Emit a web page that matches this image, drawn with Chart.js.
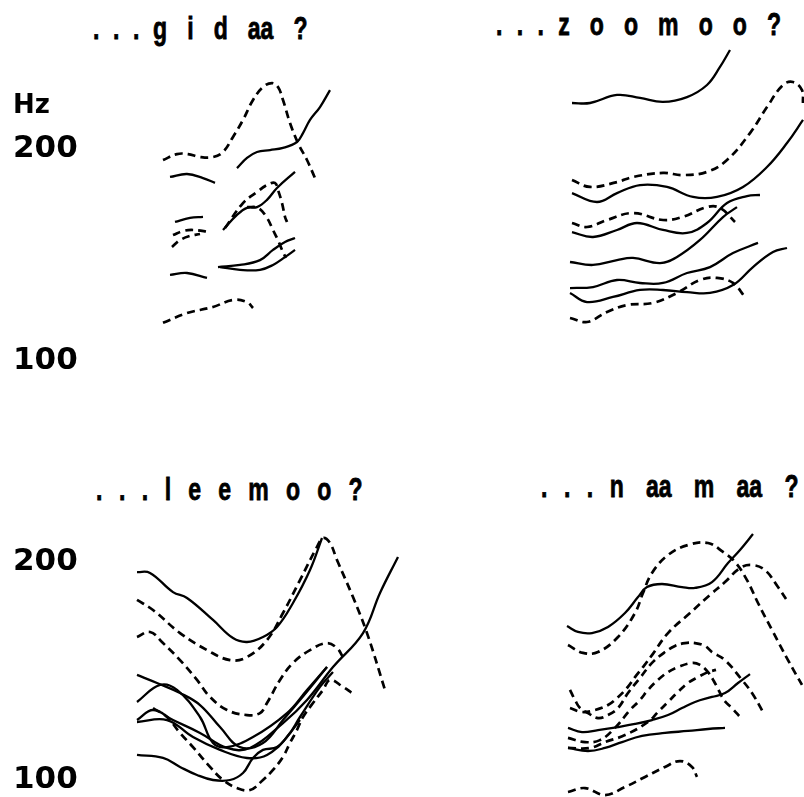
<!DOCTYPE html>
<html>
<head>
<meta charset="utf-8">
<script src="https://cdn.jsdelivr.net/npm/chart.js@4.4.1/dist/chart.umd.min.js"></script>
<style>
  html, body { margin: 0; padding: 0; background: #fff; overflow: hidden; width: 804px; height: 797px; }
  .panel { position: absolute; }
  .word {
    position: absolute;
    font: bold 32px "Liberation Sans", Arial, sans-serif;
    line-height: 32px;
    white-space: pre;
    color: #000;
    -webkit-text-stroke: 0.8px #000;
    transform: scaleX(0.72);
    transform-origin: 0 0;
  }
</style>
</head>
<body>
<div class="word" style="left:93px;top:12px"><span style="word-spacing:10px">. . . </span><span style="word-spacing:19px">g i d aa ?</span></div>
<div class="word" style="left:496px;top:8px"><span style="word-spacing:11px">. . . </span><span style="word-spacing:19px">z o o m o o ?</span></div>
<div class="word" style="left:96px;top:473px"><span style="word-spacing:14px">. . . </span><span style="word-spacing:15px">l e e m o o ?</span></div>
<div class="word" style="left:541px;top:470px"><span style="word-spacing:14px">. . . </span><span style="word-spacing:22px">n aa m aa ?</span></div>

<canvas id="gidaa" class="panel" width="400" height="410" style="left:0;top:0"></canvas>
<canvas id="zoomoo" class="panel" width="404" height="410" style="left:400px;top:0"></canvas>
<canvas id="leemoo" class="panel" width="420" height="440" style="left:0;top:400px"></canvas>
<canvas id="naamaa" class="panel" width="384" height="440" style="left:420px;top:400px"></canvas>

<script>
// Pitch contours, [time in ms, F0 in Hz]. Solid and dashed tracks per utterance.
const hzTicks = [100, 200];

// ... gidaa ?
const gidaa1 = [[46,194.8],[74,197.6],[96,197.6],[120,196.2],[146,196.2],[166,198.6],[186,205.7],[206,213.7],[226,223.1],[246,229.2],[264,231.1],[276,229.2],[286,223.1],[300,212.3],[316,202.8],[334,194.8],[350,186.3]];
const gidaa2 = [[194,191.0],[214,195.8],[234,198.6],[260,199.5],[286,200.5],[314,203.3],[326,207.5],[340,213.7],[360,219.8],[380,227.8]];
const gidaa3 = [[60,186.8],[94,188.2],[126,186.3],[150,184.0]];
const gidaa4 = [[166,161.8],[194,168.9],[214,172.2],[234,172.6],[254,176.0],[274,181.6],[310,189.2]];
const gidaa5 = [[170,162.7],[206,174.5],[234,179.7],[254,183.0],[270,184.0],[276,180.7],[284,174.5],[290,168.0],[294,165.6]];
const gidaa6 = [[214,172.6],[236,172.2],[254,167.5],[266,161.8],[276,157.0],[284,152.4],[292,148.6]];
const gidaa7 = [[70,165.6],[100,167.5],[126,168.0]];
const gidaa8 = [[66,159.4],[86,161.3],[106,161.8],[140,160.8]];
const gidaa9 = [[64,153.8],[80,157.0],[100,159.0],[120,159.9]];
const gidaa10 = [[60,140.6],[94,141.5],[134,139.2]];
const gidaa11 = [[156,144.3],[200,145.3],[240,147.6],[266,152.4],[290,156.1],[310,158.0]];
const gidaa12 = [[160,144.3],[200,143.0],[240,143.0],[266,145.3],[290,149.0],[310,152.4]];
const gidaa13 = [[46,118.0],[94,122.6],[146,125.5],[186,128.8],[214,127.8],[226,125.0]];
const gidaaSolid = [gidaa2, gidaa3, gidaa4, gidaa7, gidaa10, gidaa11, gidaa12];
const gidaaDashed = [gidaa1, gidaa5, gidaa6, gidaa8, gidaa9, gidaa13];

// ... zoomoo ?
const zoomoo1 = [[44,221.7],[80,221.7],[134,225.5],[180,224.1],[226,222.2],[274,224.5],[314,230.2],[340,238.7],[360,246.7]];
const zoomoo2 = [[44,185.4],[80,182.1],[134,184.4],[166,186.8],[226,188.7],[266,187.7],[314,189.2],[354,194.8],[400,207.5],[434,219.8],[466,230.2],[486,231.6],[504,227.8],[506,221.7]];
const zoomoo3 = [[44,179.2],[94,175.0],[134,179.2],[180,183.0],[234,182.1],[286,177.4],[334,177.4],[386,182.1],[434,191.5],[474,202.8],[506,213.7]];
const zoomoo4 = [[44,165.1],[74,163.2],[114,166.5],[166,169.8],[226,166.5],[266,168.0],[314,172.6],[340,172.2],[370,165.6]];
const zoomoo5 = [[44,160.8],[86,158.5],[134,161.8],[174,165.1],[226,161.8],[274,160.4],[314,165.1],[354,174.5],[394,177.8],[420,178.3]];
const zoomoo6 = [[40,146.7],[86,145.3],[134,147.6],[166,148.6],[220,146.2],[254,149.1],[300,157.1],[346,167.9],[374,172.6]];
const zoomoo7 = [[40,134.4],[86,134.9],[134,138.2],[180,136.8],[226,136.8],[274,141.5],[320,144.3],[366,150.9],[416,155.7]];
const zoomoo8 = [[40,132.1],[74,127.8],[126,130.2],[180,133.5],[226,133.5],[274,132.5],[320,132.1],[366,135.8],[406,144.3],[446,151.4],[474,153.3]];
const zoomoo9 = [[40,120.3],[74,118.4],[114,123.1],[154,126.4],[206,127.4],[254,132.1],[300,138.2],[334,139.2],[366,136.8],[390,130.2]];
const zoomooSolid = [zoomoo1, zoomoo3, zoomoo5, zoomoo6, zoomoo7, zoomoo8];
const zoomooDashed = [zoomoo2, zoomoo4, zoomoo9];

// ... leemoo ?
const leemoo1 = [[34,195.4],[60,195.0],[106,186.2],[134,183.5],[186,173.4],[226,165.1],[254,163.3],[286,165.6],[314,170.2],[346,181.2],[380,196.3],[404,211.0]];
const leemoo2 = [[34,182.6],[66,178.0],[120,167.4],[174,159.6],[220,155.0],[254,156.4],[294,164.2],[326,176.6],[360,191.7],[394,206.9],[406,211.0],[420,208.7],[434,200.9],[466,183.9],[494,167.4],[530,141.3]];
const leemoo3 = [[34,165.6],[60,167.9],[86,162.8],[120,155.0],[154,145.9],[180,138.1],[214,132.1],[254,129.8],[280,130.7],[294,135.3],[320,145.9],[346,153.7],[380,159.6],[414,162.8],[434,160.5],[446,156.4]];
const leemoo4 = [[34,148.2],[74,144.5],[120,139.9],[160,134.4],[200,124.3],[240,115.1],[286,117.0],[326,127.5],[360,136.7],[414,151.8]];
const leemoo5 = [[34,135.8],[80,143.6],[114,141.3],[160,128.9],[186,117.0],[214,115.1],[266,119.7],[334,130.7],[374,141.3],[414,151.8]];
const leemoo6 = [[34,127.5],[66,132.1],[106,127.5],[160,121.6],[214,114.7],[260,114.7],[326,126.1],[374,136.7],[426,151.8],[486,167.4],[520,185.8],[556,202.3]];
const leemoo7 = [[34,126.6],[94,127.5],[146,119.7],[200,113.8],[254,110.1],[294,111.5],[334,119.7],[360,128.9],[400,142.7],[426,149.5]];
const leemoo8 = [[66,133.0],[94,128.9],[120,121.6],[146,115.1],[180,106.0],[206,100.0],[234,96.3],[260,95.4],[286,100.0],[306,104.6],[326,110.6],[340,117.0],[354,123.0],[366,128.9],[386,135.3],[406,141.3],[420,145.9],[446,142.7],[464,139.9]];
const leemoo9 = [[34,111.5],[86,110.1],[120,106.0],[154,102.3],[186,100.0],[220,100.0],[246,103.2],[266,110.1],[286,113.8],[314,115.1],[340,121.6],[360,127.5]];
const leemooSolid = [leemoo1, leemoo4, leemoo5, leemoo6, leemoo7, leemoo9];
const leemooDashed = [leemoo2, leemoo3, leemoo8];

// ... naamaa ?
const naamaa1 = [[34,170.6],[56,167.9],[84,167.4],[116,170.2],[150,176.6],[176,183.9],[194,188.5],[224,189.9],[264,188.5],[290,188.1],[324,190.8],[356,199.5],[380,205.5],[406,212.8]];
const naamaa2 = [[36,161.9],[66,158.3],[96,158.7],[136,165.6],[170,176.6],[186,185.8],[204,195.0],[236,203.2],[276,207.8],[316,208.7],[346,204.6],[370,200.0],[394,191.7],[416,181.2],[444,168.8],[476,155.0],[504,143.6]];
const naamaa3 = [[40,133.0],[64,131.2],[90,132.1],[116,134.4],[134,137.6],[154,142.2],[170,147.2],[186,151.8],[204,157.3],[236,167.4],[280,176.6],[320,184.9],[350,190.8],[380,197.2],[404,198.6],[430,196.3],[456,188.5],[476,181.7]];
const naamaa4 = [[40,141.3],[50,136.7],[60,133.0],[76,130.7],[96,128.4],[116,129.8],[136,133.0],[156,139.9],[180,146.8],[204,153.7],[230,158.7],[250,161.5],[270,162.8],[290,162.8],[310,161.5],[324,158.7],[350,155.0],[384,145.9],[404,139.9],[426,131.2]];
const naamaa5 = [[36,119.3],[70,117.4],[100,118.3],[130,123.9],[160,132.1],[180,136.7],[196,141.3],[216,145.9],[236,149.5],[256,151.8],[284,153.7],[300,152.8],[316,149.5],[332,143.6],[348,136.7],[364,133.0],[380,128.9]];
const naamaa6 = [[36,114.7],[80,114.7],[110,117.4],[150,120.6],[196,126.6],[216,131.2],[236,135.8],[256,140.4],[276,144.5],[296,147.2],[316,149.5],[332,150.5]];
const naamaa7 = [[36,123.9],[64,122.0],[96,122.9],[136,124.3],[170,125.7],[204,127.5],[236,129.8],[264,133.0],[290,135.8],[324,138.1],[350,139.9],[376,144.5],[400,148.6]];
const naamaa8 = [[36,114.7],[76,113.3],[110,114.7],[144,117.4],[184,120.2],[230,121.6],[276,122.5],[316,123.4],[350,123.9]];
const naamaa9 = [[36,94.5],[70,96.3],[110,93.1],[150,96.8],[190,101.4],[230,106.0],[260,108.7],[284,106.0],[294,101.4]];
const naamaaSolid = [naamaa1, naamaa7, naamaa8];
const naamaaDashed = [naamaa2, naamaa3, naamaa4, naamaa5, naamaa6, naamaa9];

// "Hz" unit written above the frequency labels
const unitLabel = {
  id: 'unitLabel',
  afterDraw(chart, args, opts) {
    if (!opts || !opts.text) return;
    const y = chart.scales.y;
    const ctx = chart.ctx;
    ctx.save();
    ctx.font = 'bold 26px "DejaVu Sans"';
    ctx.fillStyle = '#000';
    ctx.textAlign = 'left';
    ctx.textBaseline = 'alphabetic';
    ctx.fillText(opts.text, y.left, y.getPixelForValue(200) - 36);
    ctx.restore();
  }
};

function contourSet(list, dashed) {
  return list.map(track => ({
    data: track.map(([t, f]) => ({ x: t, y: f })),
    borderColor: '#000',
    borderWidth: dashed ? 2.7 : 2.3,
    borderDash: dashed ? [8, 5] : [],
    borderCapStyle: 'butt',
    pointRadius: 0,
    tension: 0.4,
    fill: false,
    clip: 6
  }));
}

function drawPanel(id, solid, dashed, cfg) {
  const yScale = {
    type: 'linear',
    min: cfg.yMin,
    max: cfg.yMax,
    display: cfg.showAxis,
    grid: { display: false, drawTicks: false },
    border: { display: false },
    afterBuildTicks: s => { s.ticks = hzTicks.map(v => ({ value: v })); },
    afterFit: s => { s.width = cfg.axisWidth; },
    ticks: {
      font: { family: 'DejaVu Sans', weight: 'bold', size: 31 },
      color: '#000',
      crossAlign: 'far',
      padding: 0,
      autoSkip: false,
      maxRotation: 0
    }
  };
  new Chart(document.getElementById(id), {
    type: 'line',
    data: { datasets: contourSet(solid, false).concat(contourSet(dashed, true)) },
    options: {
      responsive: false,
      animation: false,
      events: [],
      layout: { padding: cfg.padding },
      plugins: {
        legend: { display: false },
        tooltip: { enabled: false },
        unitLabel: { text: cfg.unit || '' }
      },
      scales: {
        x: { type: 'linear', min: 0, max: cfg.xMax, display: false },
        y: yScale
      }
    },
    plugins: [unitLabel]
  });
}

drawPanel('gidaa', gidaaSolid, gidaaDashed, {
  yMin: 90, yMax: 250, xMax: 520, showAxis: true, axisWidth: 127, unit: 'Hz',
  padding: { left: 13, right: 0, top: 43, bottom: 27.8 }
});
drawPanel('zoomoo', zoomooSolid, zoomooDashed, {
  yMin: 90, yMax: 250, xMax: 508, showAxis: false, axisWidth: 0,
  padding: { left: 150, right: 0, top: 43, bottom: 27.8 }
});
drawPanel('leemoo', leemooSolid, leemooDashed, {
  yMin: 85, yMax: 225, xMax: 600, showAxis: true, axisWidth: 107,
  padding: { left: 13, right: 0, top: 107.5, bottom: 27.3 }
});
drawPanel('naamaa', naamaaSolid, naamaaDashed, {
  yMin: 85, yMax: 225, xMax: 508, showAxis: false, axisWidth: 0,
  padding: { left: 130, right: 0, top: 107.5, bottom: 27.3 }
});
</script>
</body>
</html>
